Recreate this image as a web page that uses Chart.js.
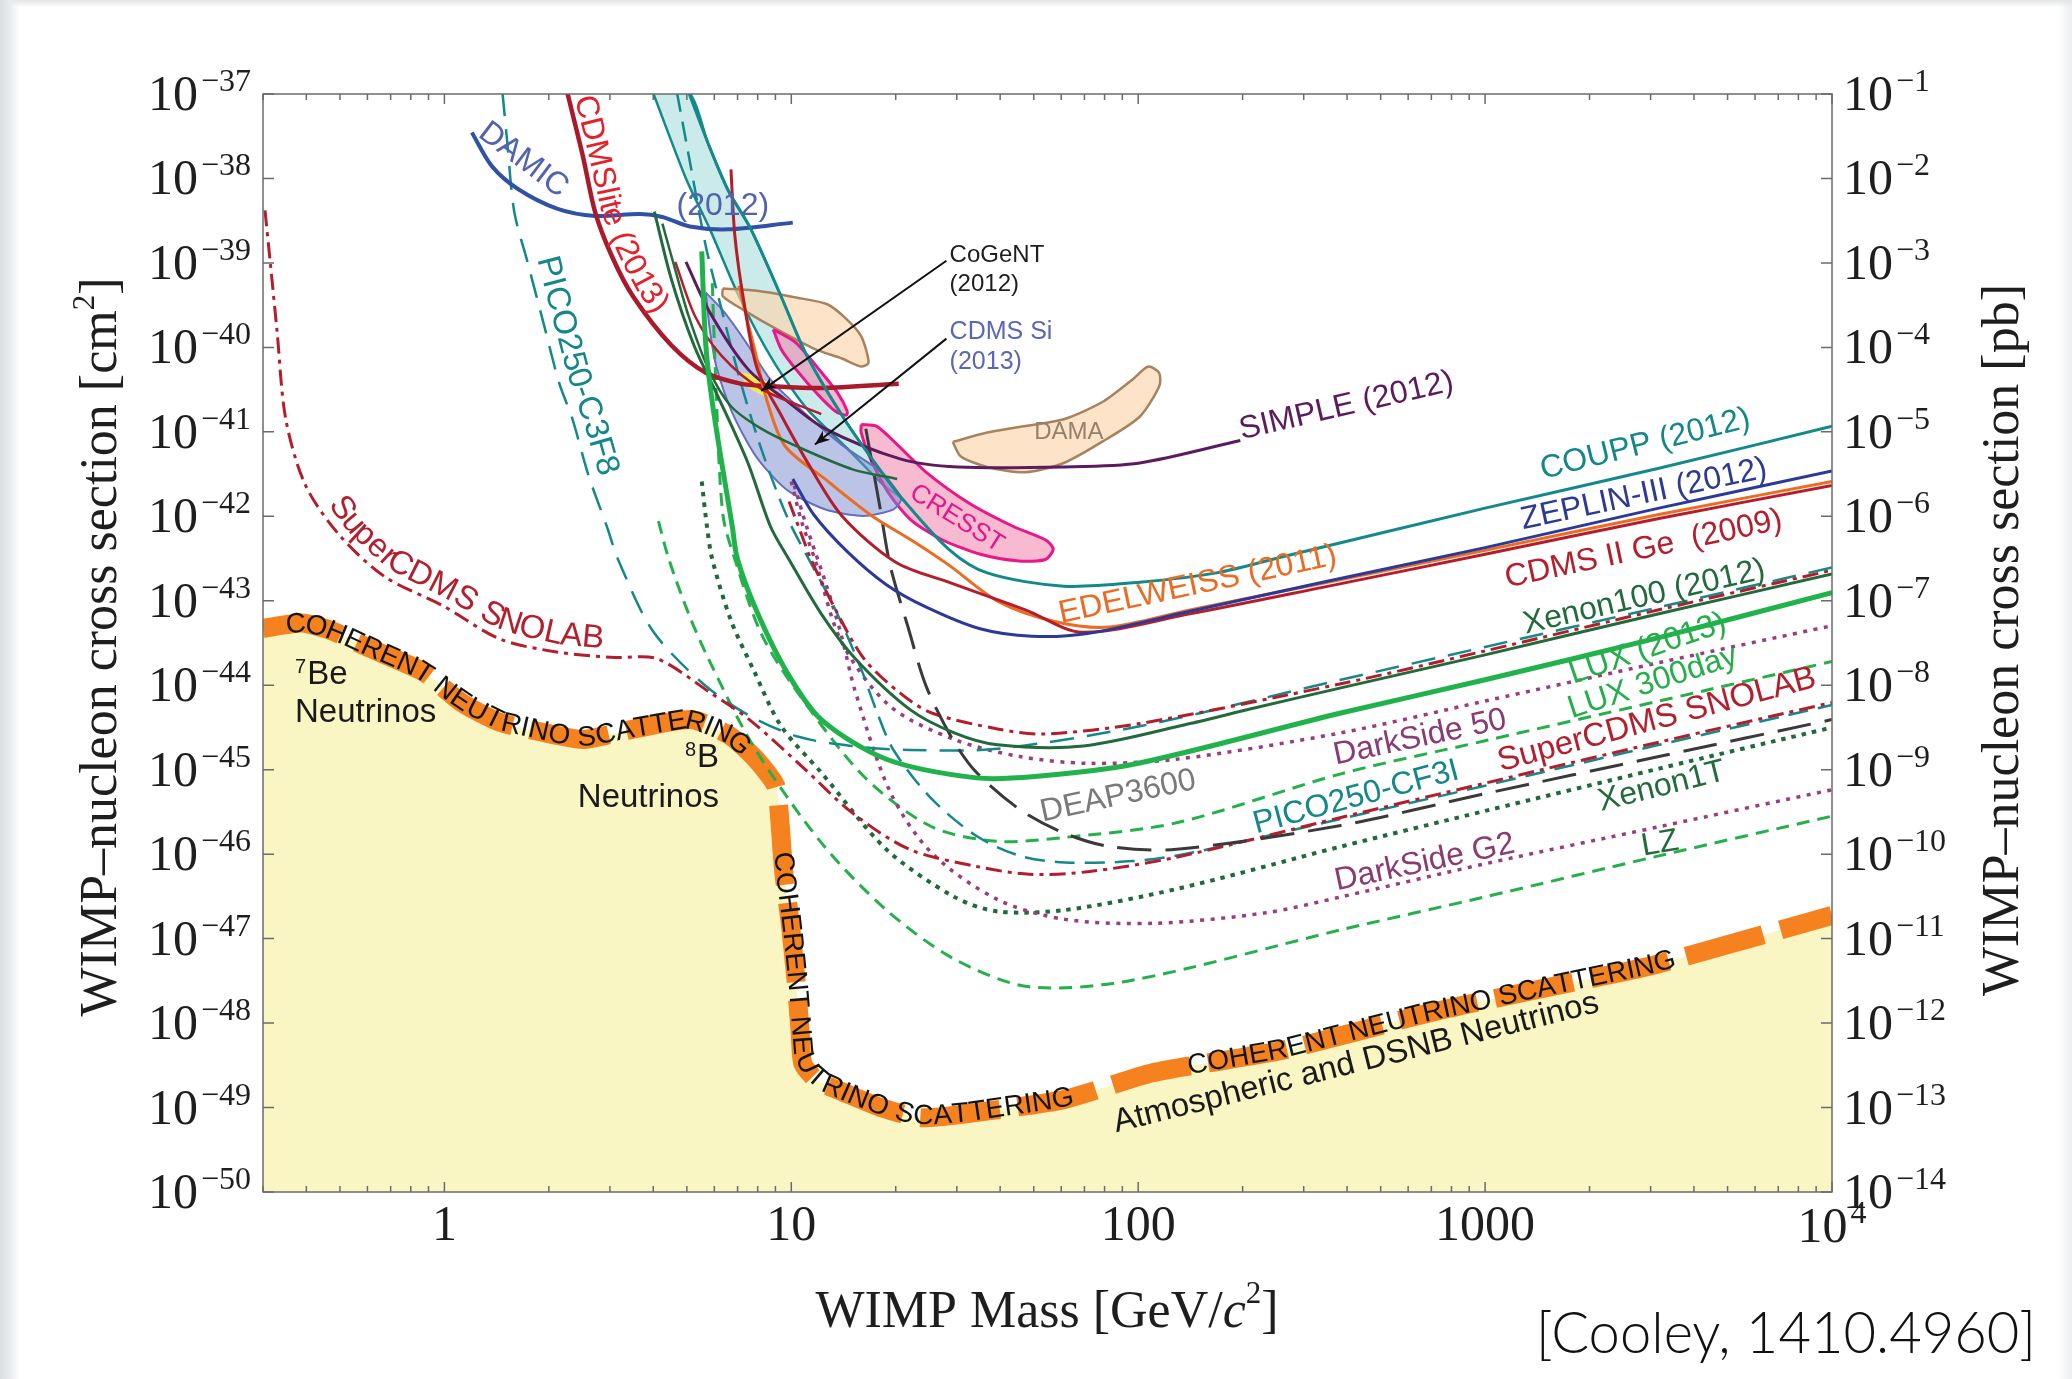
<!DOCTYPE html>
<html>
<head>
<meta charset="utf-8">
<title>WIMP-nucleon cross section limits</title>
<script src="https://cdn.jsdelivr.net/npm/chart.js"></script>
<style>
  html, body { margin: 0; padding: 0; }
  body {
    width: 2072px; height: 1379px; overflow: hidden;
    background:
      linear-gradient(90deg, #dcdfe2 0px, #e9ebed 10px, rgba(255,255,255,0) 20px),
      linear-gradient(180deg, #e2e4e7 0px, rgba(255,255,255,0) 7px),
      linear-gradient(270deg, #eceef0 0px, rgba(255,255,255,0) 14px),
      #fff;
  }
</style>
</head>
<body>
<canvas id="grafico" width="2072" height="1379"></canvas>
<script>
// ejes
const xTicks = [1, 10, 100, 1000, 10000];
const xTickLabels = ['1', '10', '100', '1000', '10^4'];
const cmTickExp = [-37, -38, -39, -40, -41, -42, -43, -44, -45, -46, -47, -48, -49, -50];
const pbTickExp = [-1, -2, -3, -4, -5, -6, -7, -8, -9, -10, -11, -12, -13, -14];

// [masa GeV/c2, seccion eficaz cm2]
const damic = [[1.2,3.5e-38],[1.37,1.4e-38],[1.63,7.5e-39],[2.11,4.4e-39],[2.72,3.6e-39],[3.66,3.8e-39],[4.25,3.5e-39],[5.1,2.7e-39],[6.6,2.5e-39],[10.1,3.0e-39]];
const cdmslite = [[2.26,1.05e-37],[2.51,1.8e-38],[2.72,4.0e-39],[3.04,1.2e-39],[3.5,4.0e-40],[4.51,1.06e-40],[5.67,5.0e-41],[7.18,3.7e-41],[8.49,3.5e-41],[12.2,3.3e-41],[20.4,3.7e-41]];
const coupp = [[5.06,1.05e-37],[5.77,2.54e-38],[6.58,7.2e-39],[7.64,2.53e-39],[9.35,4.0e-40],[11.1,7.9e-41],[14.4,1.31e-41],[18.0,3.57e-42],[20.6,1.73e-42],[28.4,4.1e-43],[36.7,2.14e-43],[61,1.49e-43],[101,1.66e-43],[168,2.14e-43],[259,3.3e-43],[1000,1.25e-42],[3170,3.7e-42],[10000,1.17e-41]];
const coupBandEdge = [[3.99,1.05e-37],[4.97,1.0e-38],[5.82,2.53e-39],[7.12,3.74e-40],[8.93,6.6e-41],[11.1,1.87e-41],[14.5,6.35e-42],[18.5,2.32e-42]];
const zeplin = [[10.1,2.77e-42],[11.6,1.05e-42],[14.5,3.82e-43],[18.8,1.55e-43],[24.5,8.4e-44],[34.8,4.7e-44],[49.4,3.8e-44],[71.4,4.1e-44],[141,7.5e-44],[340,1.66e-43],[1000,4.26e-43],[3170,1.25e-42],[10000,3.44e-42]];
const cdmsGe = [[6.7,1.28e-38],[6.88,2.04e-39],[7.31,3.36e-40],[7.98,5.53e-41],[9.35,1.57e-41],[11.1,4.44e-42],[14.0,1.01e-42],[20.0,2.86e-43],[28.4,1.66e-43],[47.3,7.8e-44],[68.9,4.23e-44],[141,7.0e-44],[340,1.44e-43],[1000,3.55e-43],[3170,9.4e-43],[10000,2.32e-42]];
const cdmsLow = [[4.63,1.03e-39],[5.28,2.34e-40],[6.3,7.94e-41],[8.19,3.22e-41],[12.2,1.62e-41]];
const edelweiss = [[7.06,5.36e-40],[7.84,9.5e-41],[8.49,2.42e-41],[9.59,6.8e-42],[12.5,2.77e-42],[17.1,1.01e-42],[22.4,5.1e-43],[28.4,2.66e-43],[39.7,9.7e-44],[57.8,5.65e-44],[82.8,4.89e-44],[141,7.8e-44],[340,1.61e-43],[1000,3.95e-43],[3170,1.05e-42],[10000,2.58e-42]];
const xenon100 = [[4.03,4.04e-39],[4.51,6.43e-40],[5.24,1.06e-40],[6.13,2.69e-41],[7.5,4.28e-42],[8.71,7.57e-43],[9.85,3.08e-43],[12.2,7.0e-44],[15.3,2.06e-44],[21.9,5.22e-45],[29.5,2.73e-45],[39.3,1.97e-45],[69.5,1.91e-45],[141,3.52e-45],[210,5.22e-45],[384,9.31e-45],[1000,2.29e-44],[3170,7.01e-44],[10000,2.07e-43]];
const xenon10 = [[4.25,2.92e-39],[4.63,8.26e-40],[5.06,2.34e-40],[5.77,5.53e-41],[6.7,2.01e-41],[8.19,1.09e-41],[10.3,6.82e-42],[15.1,3.57e-42],[20.2,2.77e-42]];
const simple = [[4.97,1.03e-39],[5.82,2.61e-40],[7.5,5.53e-41],[9.59,2.42e-41],[12.5,1.09e-41],[20.7,4.76e-42],[30.2,3.84e-42],[61,3.84e-42],[101,4.28e-42],[197,7.89e-42]];
const lux = [[5.52,1.37e-39],[5.67,1.06e-40],[5.98,1.68e-41],[6.76,7.57e-43],[7.0,3.08e-43],[7.98,7.26e-44],[9.76,1.38e-44],[12.2,3.92e-45],[18.8,1.33e-45],[34.2,8.0e-46],[50.3,8.3e-46],[96.1,1.15e-45],[384,4.69e-45],[1000,1.16e-44],[3170,3.66e-44],[10000,1.25e-43]];
const superCdmsLow = [[0.304,4.19e-39],[0.315,9.9e-40],[0.329,1.63e-40],[0.349,1.41e-41],[0.398,2.32e-42],[0.5,5.89e-43],[0.674,1.92e-43],[0.991,8.71e-44],[1.445,3.53e-44],[2.125,2.46e-44],[3.1,2.13e-44],[4.1,2.06e-44],[5.87,8.05e-45],[7.57,3.92e-45],[11.0,9.95e-46],[14.9,3.14e-46],[21.9,1.14e-46],[34.2,7.16e-47],[48.5,5.77e-47],[71.4,6.19e-47],[129,9.2e-47],[384,2.72e-46],[1000,6.93e-46],[3170,2.12e-45],[10000,6.25e-45]];
const superCdmsHigh = [[9.85,1.5e-42],[10.7,6.1e-43],[11.4,3.08e-43],[13.3,8.39e-44],[16.2,2.06e-44],[20.6,8.05e-45],[25.4,4.69e-45],[39.3,3.04e-45],[53,2.64e-45],[101,3.52e-45],[384,1.04e-44],[1000,2.55e-44],[3170,7.82e-44],[10000,2.3e-43]];
const picoC3F8 = [[1.47,1.05e-37],[1.52,2.54e-38],[1.59,4.04e-39],[1.74,9.91e-40],[1.93,1.95e-40],[2.14,3.86e-41],[2.34,1.41e-41],[2.6,3.09e-42],[2.94,7.57e-43],[3.18,2.96e-43],[3.99,4.39e-44],[5.57,1.04e-44],[7.57,4.37e-45],[10.5,2.45e-45],[14.9,1.91e-45],[21.9,1.71e-45],[39.3,1.77e-45],[101,3.27e-45],[384,1.16e-44],[1000,2.84e-44],[3170,8.39e-44],[10000,2.48e-43]];
const picoCF3I = [[4.68,1.05e-37],[5.1,1.59e-38],[5.67,1.58e-39],[6.3,2.8e-40],[7.06,4.61e-41],[7.84,1.09e-41],[8.71,3.09e-42],[9.85,8.75e-43],[11.3,2.96e-43],[13.3,8.39e-44],[15.8,1.66e-44],[17.7,4.69e-45],[19.7,1.71e-45],[25.4,4.5e-46],[34.2,1.64e-46],[45.6,9.55e-47],[61.5,7.98e-47],[96.1,8.27e-47],[141,1.03e-46],[384,2.62e-46],[1000,6.46e-46],[3170,1.97e-45],[10000,5.82e-45]];
const darkSide50 = [[10.0,2.58e-42],[10.7,8.75e-43],[11.7,3.08e-43],[14.0,3.17e-44],[19.3,5.61e-45],[29.5,2.28e-45],[45.6,1.43e-45],[71.4,1.19e-45],[129,1.33e-45],[384,2.73e-45],[1000,6.5e-45],[3170,1.85e-44],[10000,5.07e-44]];
const darkSideG2 = [[10.2,2.32e-42],[11.1,7.31e-43],[12.5,1.73e-43],[13.9,4.08e-44],[15.3,8.36e-45],[19.3,5.4e-46],[25.4,1.03e-46],[39.3,2.9e-47],[61.5,1.69e-47],[112,1.52e-47],[233,2.02e-47],[384,3.12e-47],[1000,7.69e-47],[3170,2.11e-46],[10000,5.79e-46]];
const lux300 = [[5.92,5.77e-40],[6.08,2.69e-41],[6.35,1.05e-42],[6.88,3.08e-43],[8.19,4.08e-44],[10.4,8.36e-45],[16.2,8.3e-46],[25.4,2.11e-46],[39.3,1.42e-46],[61.5,1.58e-46],[129,2.35e-46],[384,8.93e-46],[1000,2.2e-45],[3170,6.5e-45],[10000,1.91e-44]];
const lz = [[4.14,8.75e-43],[4.44,3.08e-43],[5.06,7.0e-44],[5.77,2.06e-44],[7.77,1.91e-45],[12.2,1.37e-46],[18.8,2.18e-47],[29.5,5.73e-48],[48.5,2.69e-48],[96.1,3.22e-48],[384,1.27e-47],[1000,3.12e-47],[3170,9.55e-47],[10000,2.82e-46]];
const xenon1T = [[5.52,2.58e-42],[5.72,7.31e-43],[5.92,3.08e-43],[6.7,5.85e-44],[7.77,1.54e-44],[9.35,3.27e-45],[12.2,9.25e-46],[18.8,1.14e-46],[29.5,3.12e-47],[39.3,2.1e-47],[61.5,2.18e-47],[129,3.87e-47],[384,1.23e-46],[1000,3.25e-46],[3170,1.03e-45],[10000,3.16e-45]];
const deap = [[16.4,1.09e-41],[18.0,1.3e-42],[19.3,2.56e-43],[21.7,4.89e-44],[24.5,9.64e-45],[29.2,2.28e-45],[34.2,9.25e-46],[45.6,3.37e-46],[61.5,1.76e-46],[82.8,1.23e-46],[129,1.14e-46],[384,2.19e-46],[1000,5.2e-46],[3170,1.43e-45],[10000,3.92e-45]];
const neutrinoFloor = [[0.3,4.7e-44],[0.388,5.45e-44],[0.475,4.39e-44],[0.596,2.84e-44],[0.869,1.44e-44],[1.12,6.25e-45],[1.445,3.64e-45],[2.125,2.54e-45],[2.53,2.28e-45],[3.53,3.04e-45],[5.15,3.92e-45],[6.64,2.54e-45],[7.91,1.33e-45],[9.02,6.46e-46],[9.26,2.62e-46],[9.51,6.19e-47],[9.94,1.47e-47],[10.3,3.46e-48],[10.6,8.18e-49],[10.8,3.32e-49],[11.9,2.08e-49],[14.5,1.45e-49],[18.0,1.01e-49],[23.5,7.57e-50],[31.9,8.43e-50],[61.5,1.25e-49],[110,2.58e-49],[261,4.76e-49],[685,1.31e-48],[1418,2.5e-48],[2908,4.61e-48],[5185,8.83e-48],[10000,1.88e-47]];

// regiones de senal
const dama = [[29.2,7.6e-42],[36.7,9.8e-42],[47.3,1.17e-41],[61,1.41e-41],[78.6,2.24e-41],[96.1,4.14e-41],[107,5.94e-41],[115,4.97e-41],[115,3.46e-41],[101,1.51e-41],[78.6,7.6e-42],[61,4.28e-42],[47.3,3.32e-42],[36.7,3.84e-42],[30.8,5.12e-42]];
const damaLow = [[6.35,4.99e-40],[8.05,4.64e-40],[10.4,3.87e-40],[12.7,3.24e-40],[14.4,2.18e-40],[15.9,1.36e-40],[16.7,6.62e-41],[15.9,5.94e-41],[14.0,7.38e-41],[11.7,9.51e-41],[9.1,1.63e-40],[7.25,2.8e-40],[6.35,4.02e-40]];
const cresstA = [[8.87,1.63e-40],[10.3,1.14e-40],[12.0,5.53e-41],[13.6,2.89e-41],[14.5,1.75e-41],[14.4,1.57e-41],[13.4,1.75e-41],[12.0,2.69e-41],[10.3,5.53e-41],[9.35,9.51e-41]];
const cresstB = [[15.9,1.22e-41],[17.6,1.17e-41],[20,7.34e-42],[24.5,3.32e-42],[32.4,1.45e-42],[43.7,7.57e-43],[54,5.28e-43],[56.9,4.1e-43],[54,3.08e-43],[45.2,2.96e-43],[35.1,3.55e-43],[27.2,5.28e-43],[22.1,9.08e-43],[19,1.93e-42],[16.8,5.12e-42],[15.9,9.79e-42]];
const cdmsSi = [[5.67,4.48e-40],[6.41,2.61e-40],[7.5,1.06e-40],[8.71,4.14e-41],[10.9,1.68e-41],[14.1,6.82e-42],[18.2,3.32e-42],[20.7,1.61e-42],[19.7,1.21e-42],[16.1,1.01e-42],[12.5,1.21e-42],[9.68,2.08e-42],[7.91,5.12e-42],[6.76,1.68e-41],[6.08,5.94e-41],[5.82,1.63e-40]];
const cogent = [[7.18,4.97e-41],[7.84,4.61e-41],[8.71,3.59e-41],[8.93,2.89e-41],[8.41,2.69e-41],[7.5,3.46e-41]];

const SANS = '"Liberation Sans", Arial, sans-serif';
const SERIF = '"Liberation Serif", "Times New Roman", serif';

// rotulos libres, en coordenadas de datos
const rotulos = [
  {text: 'COUPP (2012)', m: 1468, s: 2.77e-42, ang: -14, color: '#13878a', size: 32},
  {text: 'ZEPLIN-III (2012)', m: 1287, s: 7.05e-43, ang: -12, color: '#2c3a94', size: 32},
  {text: 'CDMS II Ge  (2009)', m: 1158, s: 1.44e-43, ang: -12, color: '#b41f2d', size: 32},
  {text: 'EDELWEISS (2011)', m: 59.9, s: 5.45e-44, ang: -12, color: '#ec6b22', size: 32},
  {text: 'Xenon100 (2012)', m: 1309, s: 4.08e-44, ang: -13, color: '#236a3d', size: 32},
  {text: 'LUX (2013)', m: 1795, s: 1.04e-44, ang: -19, color: '#25ae4b', size: 32},
  {text: 'LUX 300day', m: 1778, s: 4.06e-45, ang: -18, color: '#25ae4b', size: 32},
  {text: 'SuperCDMS SNOLAB', m: 1109, s: 9.59e-46, ang: -15, color: '#b41f2d', size: 33},
  {text: 'DarkSide 50', m: 371, s: 1.15e-45, ang: -12, color: '#8b3b73', size: 32},
  {text: 'PICO250-CF3I', m: 219, s: 1.76e-46, ang: -15, color: '#13878a', size: 32},
  {text: 'Xenon1T', m: 2158, s: 3.25e-46, ang: -14, color: '#236a3d', size: 32},
  {text: 'DarkSide G2', m: 374, s: 3.74e-47, ang: -12, color: '#8b3b73', size: 32},
  {text: 'LZ', m: 2858, s: 9.55e-47, ang: -10, color: '#236a3d', size: 32},
  {text: 'DEAP3600', m: 53.0, s: 2.44e-46, ang: -12, color: '#7a7a7a', size: 32},
  {text: 'SIMPLE (2012)', m: 199, s: 8.18e-42, ang: -13, color: '#5c1b5e', size: 32},
  {text: 'DAMA', m: 63.1, s: 9.79e-42, color: '#958069', size: 24, align: 'center', base: 'middle'},
  {text: 'CRESST', m: 30.0, s: 9.4e-43, ang: 32, color: '#e5168a', size: 26, align: 'center', base: 'middle'},
  {text: 'DAMIC', m: 1.69, s: 1.65e-38, ang: 37, color: '#5262b2', size: 32, align: 'center', base: 'middle'},
  {text: '(2012)', m: 6.35, s: 4.67e-39, color: '#5262b2', size: 32, align: 'center', base: 'middle'},
  {text: 'CoGeNT', m: 28.6, s: 1.03e-39, color: '#1e1e1e', size: 24},
  {text: '(2012)', m: 28.6, s: 4.64e-40, color: '#1e1e1e', size: 24},
  {text: 'CDMS Si', m: 28.6, s: 1.27e-40, color: '#5b67b5', size: 25},
  {text: '(2013)', m: 28.6, s: 5.53e-41, color: '#5b67b5', size: 25},
  {text: 'Be', sup: '7', m: 0.371, s: 1.04e-44, color: '#1a1a1a', size: 33},
  {text: 'Neutrinos', m: 0.371, s: 3.64e-45, color: '#1a1a1a', size: 33},
  {text: 'B', sup: '8', m: 6.19, s: 1.07e-45, color: '#1a1a1a', size: 33, align: 'right'},
  {text: 'Neutrinos', m: 6.19, s: 3.62e-46, color: '#1a1a1a', size: 33, align: 'right'},
  {text: 'Atmospheric and DSNB Neutrinos', m: 86.5, s: 5.09e-50, ang: -14, color: '#1a1a1a', size: 33}
];

// rotulos que siguen una curva
const rotulosCurva = [
  {serie: cdmslite, text: 'CDMSlite (2013)', s: 8.65e-38, off: 6, color: '#e5202a', size: 32},
  {serie: picoC3F8, text: 'PICO250-C3F8', s: 1.03e-39, off: 10, color: '#13878a', size: 33},
  {serie: superCdmsLow, text: 'SuperCDMS SNOLAB', m: 0.443, off: 8, color: '#b41f2d', size: 33},
  {serie: neutrinoFloor, text: 'COHERENT NEUTRINO SCATTERING', m: 0.349, base: 'middle', color: '#141414', size: 28},
  {serie: neutrinoFloor, text: 'COHERENT NEUTRINO SCATTERING', s: 1.06e-46, base: 'middle', color: '#141414', size: 28},
  {serie: neutrinoFloor, text: 'COHERENT NEUTRINO SCATTERING', m: 139, base: 'middle', color: '#141414', size: 28}
];

const flechas = [
  {m0: 28.0, s0: 1.06e-39, m1: 8.19, s1: 3.05e-41},
  {m0: 28.0, s0: 1.27e-40, m1: 11.7, s1: 7.08e-42}
];

function linea(label, datos, color, ancho, guion, extra) {
  return Object.assign({
    label: label,
    data: datos.map(p => ({x: p[0], y: p[1]})),
    borderColor: color,
    borderWidth: ancho,
    borderDash: guion || [],
    pointRadius: 0,
    tension: 0.3,
    fill: false,
    clip: 0,
    order: 10
  }, extra || {});
}

function region(label, datos, relleno, borde, ancho, orden) {
  return linea(label, datos.concat([datos[0]]), borde, ancho, null,
    {fill: 'shape', backgroundColor: relleno, order: orden, tension: 0.25});
}

const cyanBand = coupBandEdge.concat(coupp.slice(0, 9).reverse());

// dibuja trozos de texto seguidos (para exponentes)
function partes(c, lista, x, y, align) {
  let total = 0;
  const anchos = lista.map(p => {
    c.font = p.f;
    const w = c.measureText(p.t).width + (p.gap || 0);
    total += w;
    return w;
  });
  let px = align === 'right' ? x - total : align === 'center' ? x - total / 2 : x;
  c.textAlign = 'left';
  lista.forEach((p, i) => {
    c.font = p.f;
    c.fillText(p.t, px, y + (p.dy || 0));
    px += anchos[i];
  });
}

function potencia(base, exp, x, y, align, c) {
  partes(c, [
    {t: base, f: '50px ' + SERIF, gap: 3},
    {t: exp, f: '32px ' + SERIF, dy: -19}
  ], x, y, align);
}

function rotulo(c, chart, r) {
  const x = chart.scales.x.getPixelForValue(r.m);
  const y = chart.scales.y.getPixelForValue(r.s);
  c.save();
  c.translate(x, y);
  c.rotate((r.ang || 0) * Math.PI / 180);
  c.fillStyle = r.color;
  c.textBaseline = r.base || 'alphabetic';
  const f = r.size + 'px ' + SANS;
  const lista = r.sup
    ? [{t: r.sup, f: Math.round(r.size * 0.62) + 'px ' + SANS, dy: -Math.round(r.size * 0.33), gap: 1}, {t: r.text, f: f}]
    : [{t: r.text, f: f}];
  partes(c, lista, 0, 0, r.align || 'left');
  c.restore();
}

function textoEnCurva(c, chart, r) {
  const xs = chart.scales.x, ys = chart.scales.y;
  const pts = r.serie.map(p => ({x: xs.getPixelForValue(p[0]), y: ys.getPixelForValue(p[1])}));
  const acum = [0];
  for (let i = 1; i < pts.length; i++) {
    acum.push(acum[i - 1] + Math.hypot(pts[i].x - pts[i - 1].x, pts[i].y - pts[i - 1].y));
  }
  const punto = s => {
    let i = 1;
    while (i < pts.length - 1 && acum[i] < s) i++;
    const t = (s - acum[i - 1]) / ((acum[i] - acum[i - 1]) || 1);
    return {x: pts[i - 1].x + (pts[i].x - pts[i - 1].x) * t, y: pts[i - 1].y + (pts[i].y - pts[i - 1].y) * t};
  };
  const eje = r.m !== undefined ? 'x' : 'y';
  const meta = r.m !== undefined ? xs.getPixelForValue(r.m) : ys.getPixelForValue(r.s);
  let s = 0;
  for (let i = 1; i < pts.length; i++) {
    const va = pts[i - 1][eje], vb = pts[i][eje];
    if ((va - meta) * (vb - meta) <= 0 && va !== vb) {
      s = acum[i - 1] + (meta - va) / (vb - va) * (acum[i] - acum[i - 1]);
      break;
    }
  }
  c.save();
  c.font = r.size + 'px ' + SANS;
  c.fillStyle = r.color;
  c.textAlign = 'center';
  c.textBaseline = r.base || 'alphabetic';
  for (const ch of r.text) {
    const w = c.measureText(ch).width;
    const p0 = punto(s), p1 = punto(s + w);
    const ang = Math.atan2(p1.y - p0.y, p1.x - p0.x);
    c.save();
    c.translate((p0.x + p1.x) / 2, (p0.y + p1.y) / 2);
    c.rotate(ang);
    c.fillText(ch, 0, -(r.off || 0));
    c.restore();
    s += w;
  }
  c.restore();
}

function flecha(c, chart, f) {
  const xs = chart.scales.x, ys = chart.scales.y;
  const x0 = xs.getPixelForValue(f.m0), y0 = ys.getPixelForValue(f.s0);
  const x1 = xs.getPixelForValue(f.m1), y1 = ys.getPixelForValue(f.s1);
  const ang = Math.atan2(y1 - y0, x1 - x0), L = 15, W = 6;
  c.save();
  c.strokeStyle = '#111';
  c.fillStyle = '#111';
  c.lineWidth = 2;
  c.beginPath(); c.moveTo(x0, y0); c.lineTo(x1, y1); c.stroke();
  c.beginPath();
  c.moveTo(x1, y1);
  c.lineTo(x1 - L * Math.cos(ang) + W * Math.sin(ang), y1 - L * Math.sin(ang) - W * Math.cos(ang));
  c.lineTo(x1 - L * Math.cos(ang) * 0.7, y1 - L * Math.sin(ang) * 0.7);
  c.lineTo(x1 - L * Math.cos(ang) - W * Math.sin(ang), y1 - L * Math.sin(ang) + W * Math.cos(ang));
  c.closePath();
  c.fill();
  c.restore();
}

const decorado = {
  id: 'decorado',
  afterDatasetsDraw(chart) {
    const c = chart.ctx, a = chart.chartArea;
    const xs = chart.scales.x, ys = chart.scales.y;

    flechas.forEach(f => flecha(c, chart, f));
    rotulosCurva.forEach(r => textoEnCurva(c, chart, r));
    rotulos.forEach(r => rotulo(c, chart, r));

    // marco y marcas
    c.save();
    c.strokeStyle = '#6b6b6b';
    c.lineWidth = 1.5;
    c.strokeRect(a.left, a.top, a.right - a.left, a.bottom - a.top);
    c.beginPath();
    for (let k = -1; k <= 4; k++) {
      for (let d = 1; d <= 9; d++) {
        const v = d * Math.pow(10, k);
        if (v < 0.3 || v > 10000) continue;
        const x = xs.getPixelForValue(v), L = d === 1 ? 10 : 6;
        c.moveTo(x, a.bottom); c.lineTo(x, a.bottom - L);
        c.moveTo(x, a.top); c.lineTo(x, a.top + L);
      }
    }
    cmTickExp.forEach(e => {
      const y = ys.getPixelForValue(Math.pow(10, e));
      c.moveTo(a.left, y); c.lineTo(a.left + 11, y);
      c.moveTo(a.right, y); c.lineTo(a.right - 11, y);
    });
    c.stroke();
    c.restore();
  },
  afterDraw(chart) {
    const c = chart.ctx, a = chart.chartArea;
    const xs = chart.scales.x, ys = chart.scales.y, y2 = chart.scales.y2;
    c.save();
    c.fillStyle = '#1e1e1e';
    c.textBaseline = 'alphabetic';

    cmTickExp.forEach(e => {
      potencia('10', '\u2212' + Math.abs(e), a.left - 12, ys.getPixelForValue(Math.pow(10, e)) + 16, 'right', c);
    });
    pbTickExp.forEach(e => {
      potencia('10', '\u2212' + Math.abs(e), a.right + 11, y2.getPixelForValue(Math.pow(10, e)) + 16, 'left', c);
    });
    xTicks.forEach((v, i) => {
      const x = xs.getPixelForValue(v);
      const lab = xTickLabels[i].split('^');
      if (lab.length > 1) {
        potencia(lab[0], lab[1], x, a.bottom + 50, 'center', c);
      } else {
        partes(c, [{t: lab[0], f: '50px ' + SERIF}], x, a.bottom + 48, 'center');
      }
    });

    // titulos de ejes
    c.save();
    c.translate(116, 647);
    c.rotate(-Math.PI / 2);
    partes(c, [
      {t: 'WIMP\u2013nucleon cross section [cm', f: '52px ' + SERIF},
      {t: '2', f: '31px ' + SERIF, dy: -22},
      {t: ']', f: '52px ' + SERIF}
    ], 0, 0, 'center');
    c.restore();

    c.save();
    c.translate(2018, 640);
    c.rotate(-Math.PI / 2);
    partes(c, [{t: 'WIMP\u2013nucleon cross section [pb]', f: '52px ' + SERIF}], 0, 0, 'center');
    c.restore();

    partes(c, [
      {t: 'WIMP Mass [GeV/', f: '52px ' + SERIF},
      {t: 'c', f: 'italic 52px ' + SERIF},
      {t: '2', f: '31px ' + SERIF, dy: -24},
      {t: ']', f: '52px ' + SERIF}
    ], 1047, 1327, 'center');

    c.font = '300 58px Lato, "Open Sans", sans-serif';
    c.textAlign = 'right';
    c.fillStyle = '#111';
    c.fillText('[Cooley, 1410.4960]', 2036, 1353, 500);
    c.restore();
  }
};

const datasets = [
  linea('LUX (2013)', lux, '#22b24c', 5),
  linea('Xenon100 (2012)', xenon100, '#22693c', 3),
  linea('XENON10', xenon10, '#22693c', 2.5),
  linea('ZEPLIN-III (2012)', zeplin, '#2b3a98', 3),
  linea('CDMS II Ge (2009)', cdmsGe, '#b31d2c', 3),
  linea('CDMS II low threshold', cdmsLow, '#b31d2c', 2.5),
  linea('EDELWEISS (2011)', edelweiss, '#ee6b22', 3),
  linea('COUPP (2012)', coupp, '#14898b', 3),
  linea('SIMPLE (2012)', simple, '#5c1b5e', 3),
  linea('CDMSlite (2013)', cdmslite, '#ab1a2b', 4.5),
  linea('DAMIC', damic, '#2f51a6', 4),
  linea('DEAP3600', deap, '#3a3a3a', 3, [34, 14]),
  linea('SuperCDMS SNOLAB', superCdmsLow, '#b31d2c', 3, [16, 6, 4, 6]),
  linea('SuperCDMS SNOLAB Ge', superCdmsHigh, '#b31d2c', 3, [16, 6, 4, 6]),
  linea('PICO250-C3F8', picoC3F8, '#14898b', 2.5, [24, 13]),
  linea('PICO250-CF3I', picoCF3I, '#14898b', 2.5, [20, 10]),
  linea('DarkSide 50', darkSide50, '#9a3d80', 3.5, [4, 6.5]),
  linea('DarkSide G2', darkSideG2, '#9a3d80', 3.5, [4, 6.5]),
  linea('LUX 300day', lux300, '#25b04b', 3, [13, 8]),
  linea('LZ', lz, '#25b04b', 3, [13, 8]),
  linea('Xenon1T', xenon1T, '#1f6a3b', 4, [4.5, 6]),
  region('CoGeNT (2012)', cogent, '#f3ea4d', '#f3ea4d', 1, 40),
  region('CDMS Si (2013)', cdmsSi, 'rgba(120,138,205,0.5)', '#6570bd', 2, 45),
  region('CRESST', cresstA, 'rgba(240,130,170,0.55)', '#e8178a', 3, 46),
  region('CRESST', cresstB, 'rgba(240,130,170,0.55)', '#e8178a', 3, 46),
  region('DAMA', dama, 'rgba(252,214,172,0.65)', '#a5835f', 2.5, 47),
  region('DAMA', damaLow, 'rgba(252,214,172,0.65)', '#a5835f', 2.5, 47),
  region('COUPP band', cyanBand, 'rgba(140,208,208,0.45)', '#14898b', 2.5, 50),
  linea('Coherent neutrino scattering', neutrinoFloor, '#f5821f', 19, [80, 18],
    {fill: 'start', backgroundColor: '#f9f6c4', order: 100, tension: 0.2})
];

const chart = new Chart(document.getElementById('grafico'), {
  type: 'line',
  data: {datasets: datasets},
  options: {
    responsive: false,
    animation: false,
    devicePixelRatio: 1,
    events: [],
    layout: {padding: {left: 263, right: 240, top: 94, bottom: 187}},
    plugins: {legend: {display: false}, tooltip: {enabled: false}},
    scales: {
      x: {type: 'logarithmic', min: 0.3, max: 10000, display: false},
      y: {type: 'logarithmic', min: 1e-50, max: 1e-37, display: false},
      y2: {type: 'logarithmic', position: 'right', min: 1e-14, max: 1e-1, display: false}
    }
  },
  plugins: [decorado]
});
</script>
</body>
</html>
